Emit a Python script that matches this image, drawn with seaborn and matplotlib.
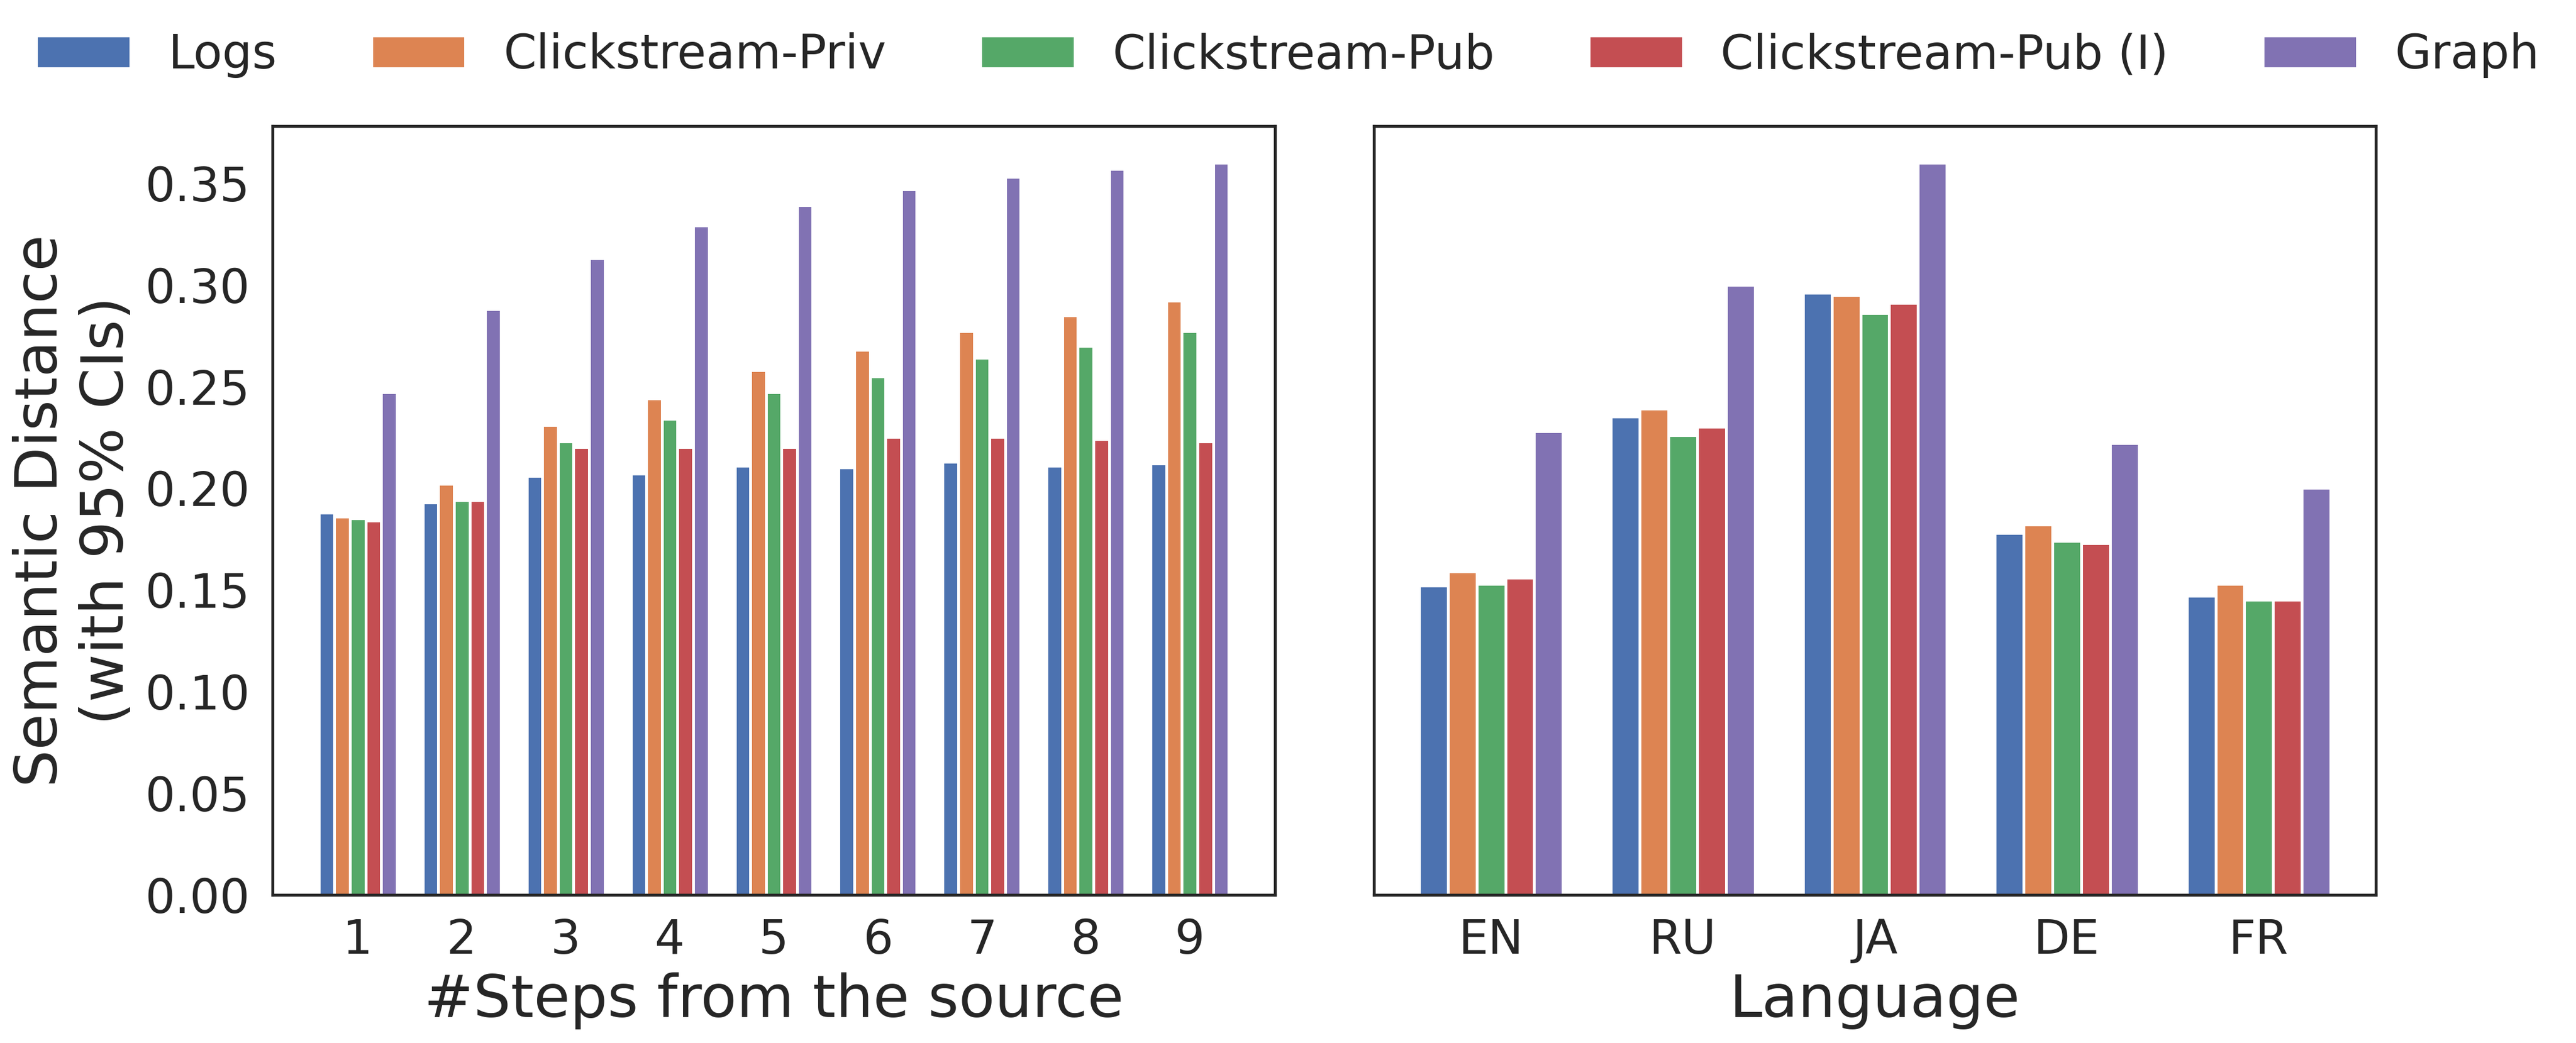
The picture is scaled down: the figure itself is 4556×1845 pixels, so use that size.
import numpy as np
import pandas as pd
import matplotlib
matplotlib.use("Agg")
import matplotlib.pyplot as plt
import seaborn as sns

series = ["Logs", "Clickstream-Priv", "Clickstream-Pub", "Clickstream-Pub (I)", "Graph"]

steps = ["1", "2", "3", "4", "5", "6", "7", "8", "9"]
steps_logs = [0.188, 0.193, 0.206, 0.207, 0.211, 0.210, 0.213, 0.211, 0.212]
steps_priv = [0.186, 0.202, 0.231, 0.244, 0.258, 0.268, 0.277, 0.285, 0.292]
steps_pub = [0.185, 0.194, 0.223, 0.234, 0.247, 0.255, 0.264, 0.270, 0.277]
steps_pubi = [0.184, 0.194, 0.220, 0.220, 0.220, 0.225, 0.225, 0.224, 0.223]
steps_graph = [0.247, 0.288, 0.313, 0.329, 0.339, 0.347, 0.353, 0.357, 0.360]

langs = ["EN", "RU", "JA", "DE", "FR"]
lang_logs = [0.152, 0.235, 0.296, 0.178, 0.147]
lang_priv = [0.159, 0.239, 0.295, 0.182, 0.153]
lang_pub = [0.153, 0.226, 0.286, 0.174, 0.145]
lang_pubi = [0.156, 0.230, 0.291, 0.173, 0.145]
lang_graph = [0.228, 0.300, 0.360, 0.222, 0.200]

def long_df(cats, cols, catname):
    rows = []
    for s, vals in zip(series, cols):
        for c, v in zip(cats, vals):
            rows.append({catname: c, "Method": s, "value": v})
    return pd.DataFrame(rows)

df_steps = long_df(steps, [steps_logs, steps_priv, steps_pub, steps_pubi, steps_graph], "step")
df_lang = long_df(langs, [lang_logs, lang_priv, lang_pub, lang_pubi, lang_graph], "lang")

sns.set_theme(style="white", palette="deep")
plt.rcParams['font.family'] = ['DejaVu Sans']

fig = plt.figure(figsize=(4556/300, 1845/300), dpi=300)
ax1 = fig.add_axes([482/4556, 1 - 1583/1845, (2255-482)/4556, (1583-223)/1845])
ax2 = fig.add_axes([2430/4556, 1 - 1583/1845, (4202-2430)/4556, (1583-223)/1845], sharey=ax1)

sns.barplot(data=df_steps, x="step", y="value", hue="Method", order=steps, hue_order=series,
            errorbar=None, width=0.75, edgecolor="white", linewidth=1.2, saturation=1, ax=ax1)
sns.barplot(data=df_lang, x="lang", y="value", hue="Method", order=langs, hue_order=series,
            errorbar=None, width=0.75, edgecolor="white", linewidth=1.2, saturation=1, ax=ax2)

ax1.set_xlim(-0.82, 8.82)
ax2.set_xlim(-0.61, 4.61)
ax1.set_ylim(0, 0.378)
ax1.set_yticks([0.0, 0.05, 0.10, 0.15, 0.20, 0.25, 0.30, 0.35])
ax1.set_yticklabels(["0.00", "0.05", "0.10", "0.15", "0.20", "0.25", "0.30", "0.35"])

ax1.set_xlabel("#Steps from the source", fontsize=25)
ax2.set_xlabel("Language", fontsize=25)
ax1.set_ylabel("Semantic Distance\n(with 95% CIs)", fontsize=25)
ax2.set_ylabel("")
ax2.tick_params(axis="y", labelleft=False)
for ax in (ax1, ax2):
    ax.tick_params(axis="both", labelsize=20)
    for sp in ax.spines.values():
        sp.set_color("#262626")
        sp.set_linewidth(1.25)

handles, labels = ax1.get_legend_handles_labels()
ax1.get_legend().remove()
ax2.get_legend().remove()
fig.legend(handles, labels, loc="center", bbox_to_anchor=(0.5, 0.947), ncol=5,
           frameon=False, fontsize=20)

fig.savefig("out.png", dpi=300)
